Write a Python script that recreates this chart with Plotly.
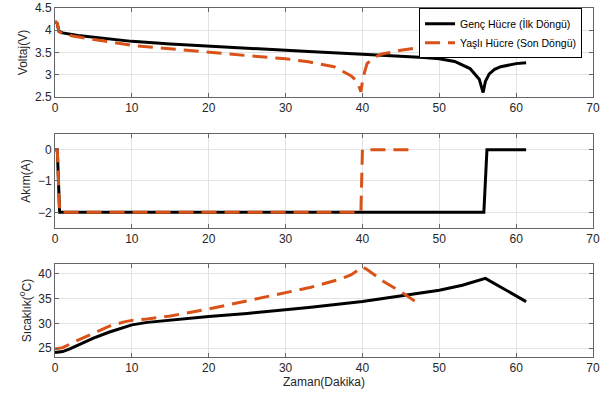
import plotly.graph_objects as go

# ---- data ----
# Voltage
t_v_young = [0, 0.3, 0.5, 1, 3, 5, 10, 15, 20, 25, 30, 33, 40, 45, 48, 50, 52, 54, 55.2, 55.7, 56.0, 56.5, 57.2, 58, 60, 61.3]
v_young = [4.2, 4.15, 3.98, 3.94, 3.88, 3.84, 3.75, 3.69, 3.64, 3.59, 3.55, 3.52, 3.46, 3.42, 3.39, 3.36, 3.3, 3.14, 2.9, 2.6, 2.85, 3.02, 3.12, 3.18, 3.25, 3.27]
t_v_old = [0, 0.3, 0.5, 1, 2.3, 5, 7, 10, 15, 20, 25, 30, 33, 36.3, 38.5, 39.3, 39.8, 40.1, 40.6, 41.5, 42.4, 45, 47]
v_old = [4.2, 4.15, 3.97, 3.92, 3.87, 3.79, 3.74, 3.66, 3.58, 3.5, 3.43, 3.36, 3.29, 3.18, 2.98, 2.85, 2.62, 2.95, 3.25, 3.38, 3.46, 3.55, 3.6]

# Current
t_i_young = [0, 0.3, 0.6, 55.8, 56.2, 61.3]
i_young = [0, 0, -2, -2, 0, 0]
t_i_old = [0, 0.3, 0.6, 39.8, 40.0, 47]
i_old = [0, 0, -2, -2, 0, 0]

# Temperature
t_T_young = [0, 1, 2, 3, 5, 7, 9, 10, 12, 15, 20, 25, 30, 33, 40, 45, 50, 53, 55, 56, 61.3]
T_young = [24.1, 24.3, 24.9, 25.6, 27.0, 28.2, 29.2, 29.7, 30.2, 30.7, 31.4, 32.0, 32.7, 33.2, 34.4, 35.5, 36.7, 37.7, 38.6, 39.1, 34.4]
t_T_old = [0, 1, 3, 5, 7, 9, 10, 12, 15, 20, 25, 30, 33.3, 36.8, 38.5, 40, 40.6, 42.8, 45, 47]
T_old = [24.8, 25.1, 26.6, 28.0, 29.4, 30.3, 30.6, 30.9, 31.5, 32.9, 34.6, 36.3, 37.3, 38.8, 39.8, 41.4, 40.9, 38.4, 36.4, 34.3]

name_young = "Genç Hücre (İlk Döngü)"
name_old = "Yaşlı Hücre (Son Döngü)"

BLACK = "#000000"
ORANGE = "#D95319"
DASH = "15px,8px"

fig = go.Figure()

def add_pair(tx1, y1, tx2, y2, xa, ya, show):
    fig.add_trace(go.Scatter(x=tx1, y=y1, mode="lines", name=name_young,
                             line=dict(color=BLACK, width=3), xaxis=xa, yaxis=ya,
                             showlegend=show, legendrank=1))
    fig.add_trace(go.Scatter(x=tx2, y=y2, mode="lines", name=name_old,
                             line=dict(color=ORANGE, width=3, dash=DASH), xaxis=xa, yaxis=ya,
                             showlegend=show, legendrank=2))

add_pair(t_v_young, v_young, t_v_old, v_old, "x", "y", True)
add_pair(t_i_young, i_young, t_i_old, i_old, "x2", "y2", False)
add_pair(t_T_young, T_young, t_T_old, T_old, "x3", "y3", False)

FONT = "Liberation Sans, Arial, sans-serif"
axcommon = dict(showgrid=True, gridcolor="#e3e3e3", gridwidth=1, zeroline=False,
                showline=True, linecolor="#666666", linewidth=1, mirror="ticks",
                ticks="inside", ticklen=4, tickcolor="#666666",
                ticklabeloverflow="allow", automargin=False,
                tickfont=dict(family=FONT, size=12, color="#262626"))

xcommon = dict(axcommon, range=[0, 70], tickvals=[0, 10, 20, 30, 40, 50, 60, 70])

fig.update_layout(
    width=607, height=397,
    margin=dict(l=55, r=14, t=8, b=40),
    paper_bgcolor="white", plot_bgcolor="white",
    font=dict(family=FONT, size=12, color="#262626"),
    xaxis=dict(xcommon, anchor="y", domain=[0, 1]),
    xaxis2=dict(xcommon, anchor="y2", domain=[0, 1]),
    xaxis3=dict(xcommon, anchor="y3", domain=[0, 1],
                title=dict(text="Zaman(Dakika)", font=dict(family=FONT, size=12, color="#262626"), standoff=2)),
    yaxis=dict(axcommon, anchor="x", domain=[0.745, 1], range=[2.5, 4.5],
               tickvals=[2.5, 3, 3.5, 4, 4.5], ticktext=["2.5", "3", "3.5", "4", "4.5"],
               title=dict(text="Voltaj(V)", font=dict(family=FONT, size=12, color="#262626"), standoff=4)),
    yaxis2=dict(axcommon, anchor="x2", domain=[0.3696, 0.639], range=[-2.5, 0.5],
                tickvals=[-2, -1, 0],
                title=dict(text="Akım(A)", font=dict(family=FONT, size=12, color="#262626"), standoff=4)),
    yaxis3=dict(axcommon, anchor="x3", domain=[0, 0.2665], range=[23.2, 42],
                tickvals=[25, 30, 35, 40],
                title=dict(text="Sıcaklık(<sup>o</sup>C)", font=dict(family=FONT, size=12, color="#262626"), standoff=4)),
    legend=dict(x=0.9796, y=0.999, xanchor="right", yanchor="top",
                bgcolor="white", bordercolor="#000000", borderwidth=1,
                font=dict(family=FONT, size=10.5, color="#000000"),
                tracegroupgap=0, itemwidth=30),
    showlegend=True,
)

fig.write_html("out.html")
